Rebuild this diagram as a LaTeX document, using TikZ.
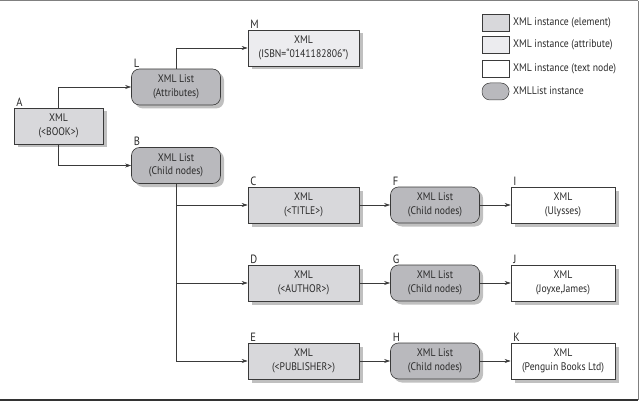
\documentclass[tikz,border=0pt]{standalone}
\usepackage{fontspec}
\setmainfont{PT Sans}[FakeStretch=0.88]
\usetikzlibrary{arrows.meta,shadows,positioning}
\definecolor{elemfill}{HTML}{D8D8DB}
\definecolor{attrfill}{HTML}{ECECEF}
\definecolor{listfill}{HTML}{B9B9BD}
\definecolor{linec}{HTML}{3A3A3A}
\definecolor{textc}{HTML}{2A2A2A}
\begin{document}
\begin{tikzpicture}[x=1pt,y=-1pt,
  font=\fontsize{11}{13.5}\selectfont, text=textc,
  shad/.style={drop shadow={shadow xshift=3.5pt,shadow yshift=-3.5pt,opacity=0.45,fill=black!55}},
  basebox/.style={draw=linec,line width=0.6pt,align=center,inner sep=0pt,minimum height=36pt,shad},
  elem/.style={basebox,fill=elemfill},
  attr/.style={basebox,fill=attrfill},
  txt/.style={basebox,fill=white},
  lst/.style={basebox,fill=listfill,rounded corners=8pt,minimum width=89pt},
  letter/.style={anchor=south west,inner sep=0.5pt,font=\fontsize{12}{14}\selectfont},
  conn/.style={draw=linec,line width=0.6pt},
  arr/.style={conn,-{Stealth[length=6pt,width=4pt]}},
  swatch/.style={draw=linec,line width=0.5pt,minimum width=27pt,minimum height=17pt,inner sep=0pt},
  legtext/.style={anchor=west,inner sep=0pt}
]
\useasboundingbox (0,0) rectangle (640,401);
\draw[black!50,line width=1pt] (0,1) -- (638,1);
\draw[black!50,line width=1pt] (638,1) -- (638,400);
\draw[black!80,line width=1.2pt] (0,400) -- (638,400);

% nodes
\node[elem,minimum width=89pt] (A) at (58.5,126) {XML\\(<BOOK>)};
\node[lst] (L) at (176,87) {XML List\\(Attributes)};
\node[lst] (B) at (176,165.5) {XML List\\(Child nodes)};
\node[attr,minimum width=111pt] (M) at (303.5,48) {XML\\(ISBN=“0141182806”)};

\node[elem,minimum width=111pt] (C) at (303.5,205) {XML\\(<TITLE>)};
\node[lst] (F) at (435,205) {XML List\\(Child nodes)};
\node[txt,minimum width=104pt] (I) at (563,205) {XML\\(Ulysses)};

\node[elem,minimum width=111pt] (D) at (303.5,283) {XML\\(<AUTHOR>)};
\node[lst] (G) at (435,283) {XML List\\(Child nodes)};
\node[txt,minimum width=104pt] (J) at (563,283) {XML\\(Joyxe,James)};

\node[elem,minimum width=111pt] (E) at (303.5,361) {XML\\(<PUBLISHER>)};
\node[lst] (H) at (435,361) {XML List\\(Child nodes)};
\node[txt,minimum width=104pt] (K) at (563,361) {XML\\(Penguin Books Ltd)};

% letters
\foreach \n in {A,L,B,M,C,F,I,D,G,J,E,H,K}
  \node[letter] (lab\n) at ([xshift=2pt,yshift=0.5pt]\n.north west) {\n};

% connectors
\draw[arr] (A.north) |- (L.west);
\draw[arr] (A.south) |- (B.west);
\draw[arr] (L.north) |- (M.west);
\draw[arr] (B.south) |- (C.west);
\draw[arr] (B.south) |- (D.west);
\draw[arr] (B.south) |- (E.west);
\draw[arr] (C) -- (F);
\draw[arr] (F) -- (I);
\draw[arr] (D) -- (G);
\draw[arr] (G) -- (J);
\draw[arr] (E) -- (H);
\draw[arr] (H) -- (K);

% legend
\node[swatch,fill=elemfill] (s1) at (495.5,22.5) {};
\node[swatch,fill=attrfill] (s2) at (495.5,45) {};
\node[swatch,fill=white] (s3) at (495.5,69) {};
\node[swatch,fill=listfill,rounded corners=8pt] (s4) at (495.5,91.5) {};
\node[legtext] (t1) at (513,23) {XML instance (element)};
\node[legtext] (t2) at (513,45) {XML instance (attribute)};
\node[legtext] (t3) at (513,69) {XML instance (text node)};
\node[legtext] (t4) at (513,91) {XMLList instance};
\end{tikzpicture}
\end{document}
